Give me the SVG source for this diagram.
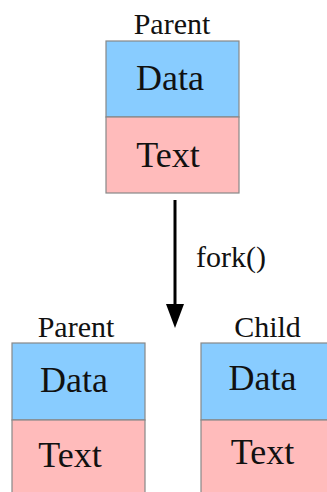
<svg xmlns="http://www.w3.org/2000/svg" width="327" height="492" viewBox="0 0 327 492">
<style>
.data{fill:#88ccff;stroke:#888888;stroke-width:1.2}
.text{fill:#ffbbbb;stroke:#888888;stroke-width:1.2}
.big{font-family:"Liberation Serif","Times New Roman",serif;font-size:36px;fill:#111;text-anchor:middle}
.cap{font-family:"Liberation Serif","Times New Roman",serif;font-size:30px;fill:#111;text-anchor:middle}
</style>
<defs>
<marker id="ah" markerWidth="8" markerHeight="6" refX="4.67" refY="3" orient="auto" markerUnits="strokeWidth">
<path d="M0,0 L8,3 L0,6 Z" fill="#000"/>
</marker>
</defs>
<g id="parent-top">
<text class="cap" x="172" y="34">Parent</text>
<rect class="data" x="106" y="41" width="133" height="76"/>
<rect class="text" x="106" y="117" width="133" height="76"/>
<text class="big" x="170" y="90">Data</text>
<text class="big" x="168" y="167">Text</text>
</g>
<g id="parent-bottom">
<text class="cap" x="76" y="337">Parent</text>
<rect class="data" x="12" y="343" width="133" height="77"/>
<rect class="text" x="12" y="420" width="133" height="77"/>
<text class="big" x="74" y="392">Data</text>
<text class="big" x="70" y="467">Text</text>
</g>
<g id="child">
<text class="cap" x="267.5" y="337">Child</text>
<rect class="data" x="201" y="343" width="133" height="77"/>
<rect class="text" x="201" y="420" width="133" height="77"/>
<text class="big" x="262.5" y="390">Data</text>
<text class="big" x="262.5" y="464">Text</text>
</g>
<g id="connectors">
<line x1="175" y1="200" x2="175" y2="318" stroke="#000" stroke-width="3" marker-end="url(#ah)"/>
<text class="cap" x="231" y="267">fork()</text>
</g>
</svg>
